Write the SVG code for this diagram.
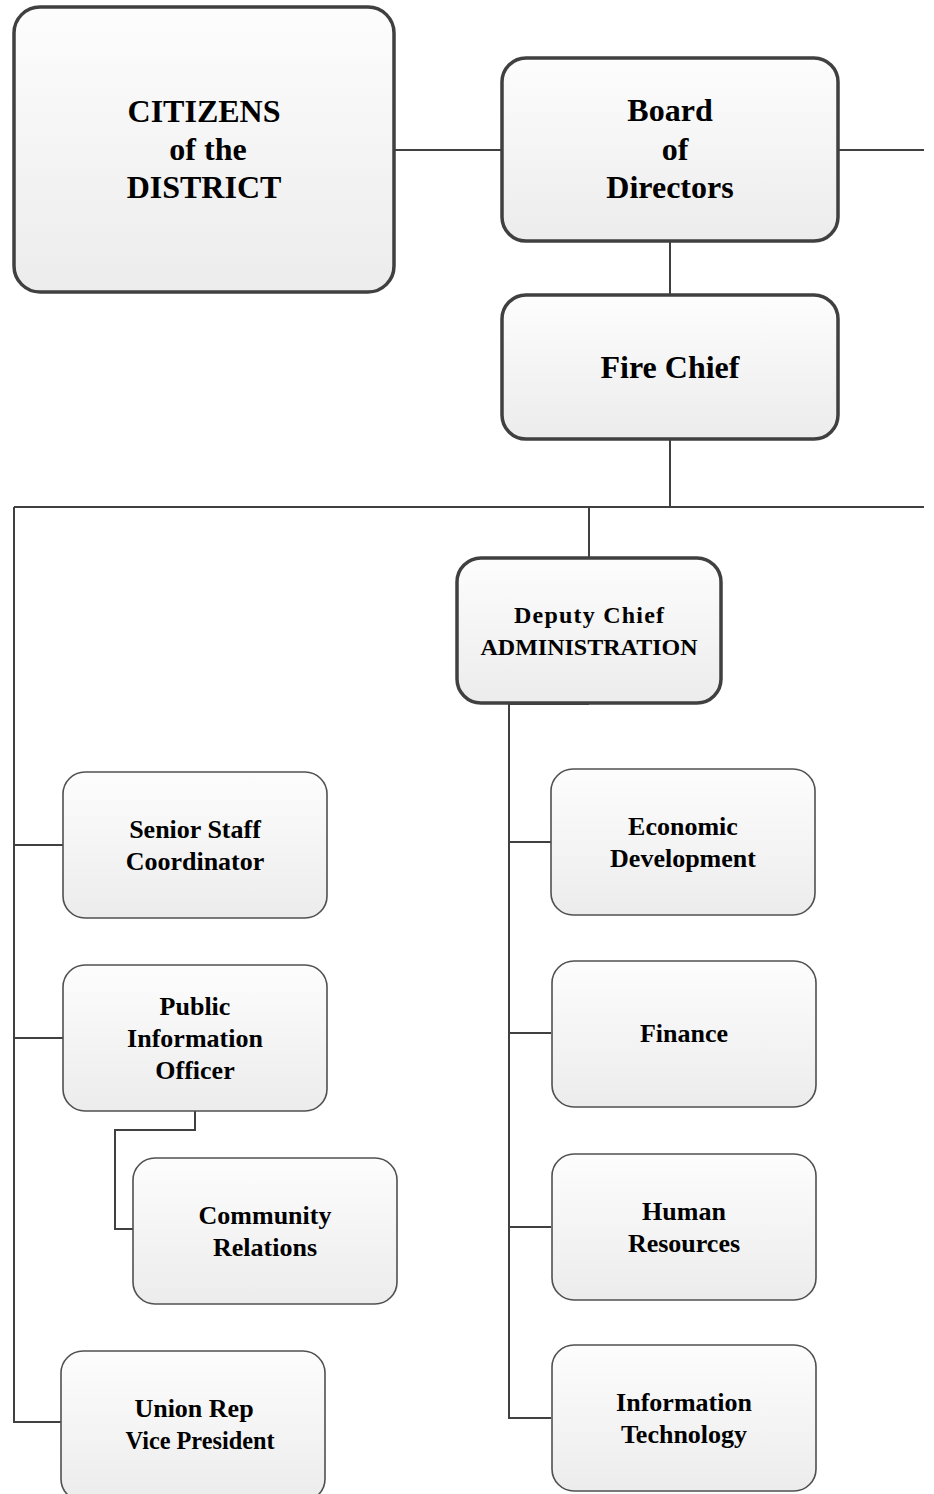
<svg xmlns="http://www.w3.org/2000/svg" width="934" height="1494" viewBox="0 0 934 1494">
<defs>
<linearGradient id="g" x1="0" y1="0" x2="0" y2="1">
<stop offset="0" stop-color="#fdfdfd"/>
<stop offset="1" stop-color="#ececec"/>
</linearGradient>
<style>
.big{fill:url(#g);stroke:#404040;stroke-width:3.5}
.sm{fill:url(#g);stroke:#505050;stroke-width:1.6}
.c{fill:none;stroke:#404040;stroke-width:2}
.t1{font-family:"Liberation Serif",serif;font-weight:bold;font-size:32px;text-anchor:middle;fill:#000}
.t3{font-family:"Liberation Serif",serif;font-weight:bold;font-size:24px;text-anchor:middle;fill:#000}
.t2{font-family:"Liberation Serif",serif;font-weight:bold;font-size:26px;text-anchor:middle;fill:#000}
</style>
</defs>
<rect width="934" height="1494" fill="#fff"/>
<g id="connectors">
<path class="c" d="M394 150H501"/>
<path class="c" d="M839 150H924"/>
<path class="c" d="M670 242V294"/>
<path class="c" d="M670 440V507"/>
<path class="c" d="M14 507H924"/>
<path class="c" d="M589 507V558"/>
<path class="c" d="M589 704H509V1418H551"/>
<path class="c" d="M509 842H551"/>
<path class="c" d="M509 1033H551"/>
<path class="c" d="M509 1227H551"/>
<path class="c" d="M14 507V1422H61"/>
<path class="c" d="M14 845H63"/>
<path class="c" d="M14 1038H63"/>
<path class="c" d="M195 1111V1130H115V1229H133"/>
</g>
<g id="citizens">
<rect class="big" x="14" y="7" width="380" height="285" rx="26"/>
<text class="t1" x="204" y="122">CITIZENS</text>
<text class="t1" x="208" y="160">of the</text>
<text class="t1" x="204" y="198">DISTRICT</text>
</g>
<g id="board">
<rect class="big" x="502" y="58" width="336" height="183" rx="24"/>
<text class="t1" x="670" y="121">Board</text>
<text class="t1" x="675" y="160">of</text>
<text class="t1" x="670" y="198">Directors</text>
</g>
<g id="firechief">
<rect class="big" x="502" y="295" width="336" height="144" rx="24"/>
<text class="t1" x="670" y="378">Fire Chief</text>
</g>
<g id="deputy">
<rect class="big" x="457" y="558" width="264" height="145" rx="24"/>
<text class="t3" x="589" y="623" textLength="150">Deputy Chief</text>
<text class="t3" x="589" y="655" textLength="217">ADMINISTRATION</text>
</g>
<g id="senior">
<rect class="sm" x="63" y="772" width="264" height="146" rx="22"/>
<text class="t2" x="195" y="838">Senior Staff</text>
<text class="t2" x="195" y="870">Coordinator</text>
</g>
<g id="pio">
<rect class="sm" x="63" y="965" width="264" height="146" rx="22"/>
<text class="t2" x="195" y="1015">Public</text>
<text class="t2" x="195" y="1047">Information</text>
<text class="t2" x="195" y="1079">Officer</text>
</g>
<g id="community">
<rect class="sm" x="133" y="1158" width="264" height="146" rx="22"/>
<text class="t2" x="265" y="1224">Community</text>
<text class="t2" x="265" y="1256">Relations</text>
</g>
<g id="union">
<rect class="sm" x="61" y="1351" width="264" height="150" rx="22"/>
<text class="t2" x="194" y="1417">Union Rep</text>
<text class="t2" x="200" y="1449" textLength="149" lengthAdjust="spacingAndGlyphs">Vice President</text>
</g>
<g id="economic">
<rect class="sm" x="551" y="769" width="264" height="146" rx="22"/>
<text class="t2" x="683" y="835">Economic</text>
<text class="t2" x="683" y="867">Development</text>
</g>
<g id="finance">
<rect class="sm" x="552" y="961" width="264" height="146" rx="22"/>
<text class="t2" x="684" y="1042">Finance</text>
</g>
<g id="hr">
<rect class="sm" x="552" y="1154" width="264" height="146" rx="22"/>
<text class="t2" x="684" y="1220">Human</text>
<text class="t2" x="684" y="1252">Resources</text>
</g>
<g id="it">
<rect class="sm" x="552" y="1345" width="264" height="146" rx="22"/>
<text class="t2" x="684" y="1411">Information</text>
<text class="t2" x="684" y="1443">Technology</text>
</g>
</svg>
